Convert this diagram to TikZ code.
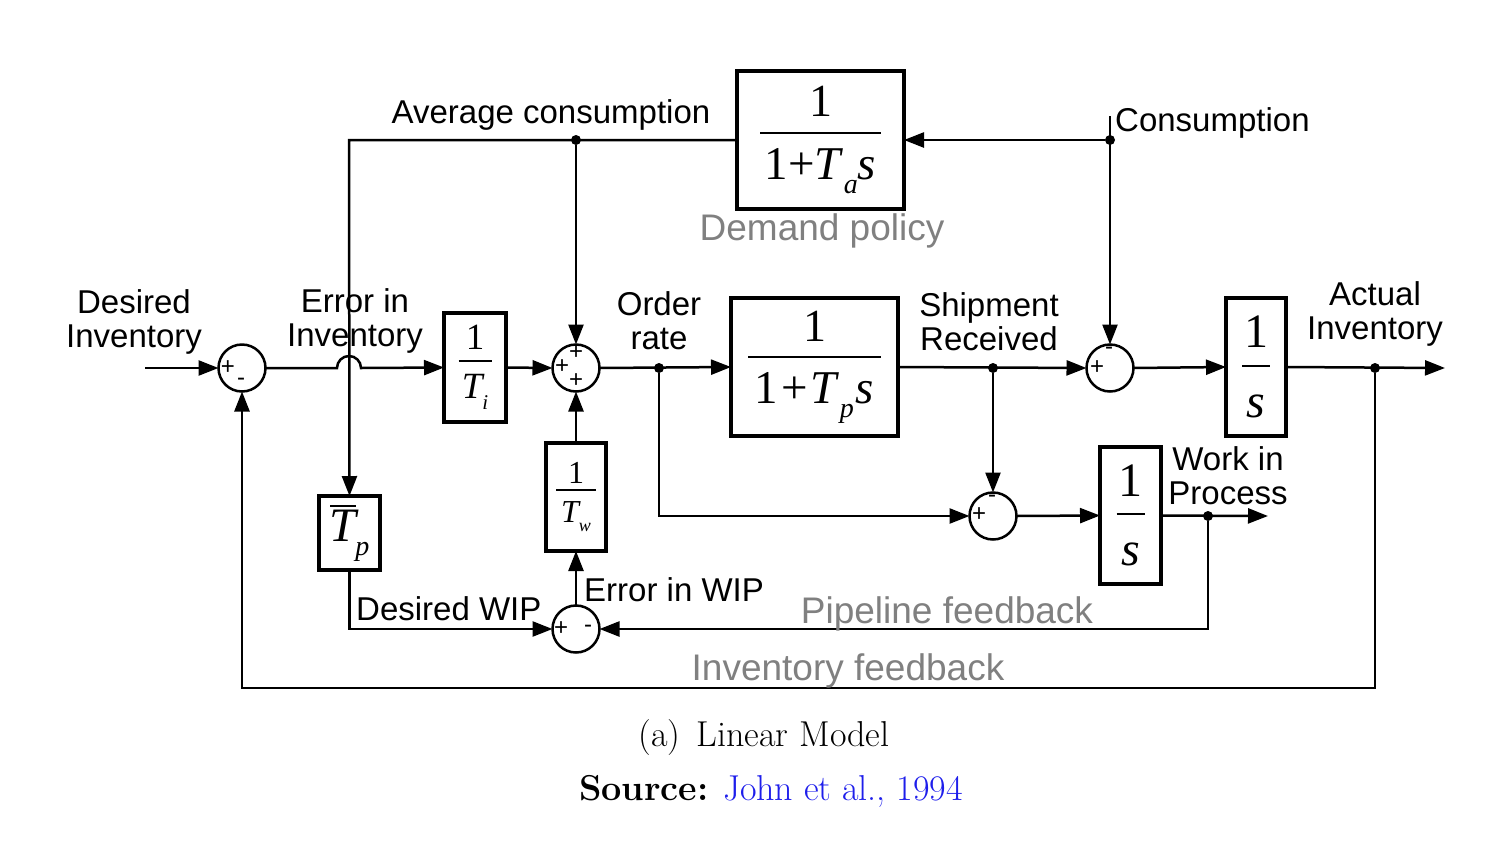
\documentclass[tikz,border=0pt]{standalone}
\usepackage{fontspec}
\newfontfamily\ser{Liberation Serif}
\newfontfamily\lab{Liberation Sans}
\usetikzlibrary{arrows.meta}
\definecolor{fbgray}{RGB}{128,128,128}
\definecolor{citeblue}{RGB}{30,30,235}
% fraction: #1 numerator, #2 denominator, #3 rule width, #4 gap above rule, #5 gap below rule
\newcommand\fr[5]{\vbox{\offinterlineskip\halign{\hfil##\hfil\cr #1\cr\noalign{\kern#4}\vrule width #3 height 1pt depth 1pt\cr\noalign{\kern#5}#2\cr}}}
\newcommand\fsz[1]{\fontsize{#1}{#1}\selectfont}
\begin{document}
\begin{tikzpicture}[x=1pt,y=-1pt,
  blk/.style={draw, line width=4pt, inner sep=0pt, outer sep=0pt},
  sumj/.style={circle, draw, line width=2.5pt, minimum size=47pt, inner sep=0pt, outer sep=0pt},
  conn/.style={line width=2.5pt},
  arr/.style={conn, -{Triangle[length=20pt,width=15pt]}},
  dot/.style={circle, fill, inner sep=0pt, minimum size=10pt},
  txt/.style={font=\lab\fontsize{33}{34}\selectfont, inner sep=0pt, align=center},
  fb/.style={font=\lab\fontsize{37}{40}\selectfont, text=fbgray, inner sep=0pt},
  sgn/.style={font=\lab\fontsize{24}{24}\selectfont, inner sep=0pt}
]
\useasboundingbox (0,0) rectangle (1493,849);

% blocks
\node[blk, minimum width=62pt, minimum height=109pt] (Ti) at (475,367.5)
  {\ser\fsz{37}\fr{1}{\itshape T\raisebox{-0.3em}{\fsz{21}i}}{33pt}{10pt}{13pt}};
\node[blk, minimum width=167pt, minimum height=138pt] (Tp) at (814.5,367)
  {\ser\fr{\fsz{46}1}{\fsz{47}1\kern3pt+\kern3pt\textit{T}\raisebox{-0.3em}{\fsz{28}\textit{p}}\kern2pt\textit{s}}{133pt}{15pt}{14pt}};
\node[blk, minimum width=167pt, minimum height=138pt] (Ta) at (820.5,140)
  {\ser\fr{\fsz{46}1}{\fsz{47}1+\textit{T}\raisebox{-0.3em}{\fsz{28}\textit{a}}\textit{s}}{121pt}{15pt}{14pt}};
\node[blk, minimum width=60pt, minimum height=138pt] (I) at (1256,367)
  {\ser\fsz{48}\fr{1}{\itshape s}{28pt}{17pt}{28pt}};
\node[blk, minimum width=61pt, minimum height=137pt] (W) at (1130.5,515.5)
  {\ser\fsz{48}\fr{1}{\itshape s}{28pt}{17pt}{28pt}};
\node[blk, minimum width=60pt, minimum height=108pt] (Tw) at (576,497)
  {\ser\fsz{32}\fr{1}{\itshape T\raisebox{-0.3em}{\fsz{18}w}}{40pt}{6pt}{10pt}};
\node[blk, minimum width=61pt, minimum height=74pt] (Tpb) at (349.5,533)
  {\ser\fsz{48}\itshape\vbox{\offinterlineskip\halign{\hfil#\hfil\cr\vrule width 26pt height 1pt depth 1pt\cr\noalign{\kern3pt}T\cr}}\kern-1pt\raisebox{-0.3em}{\fsz{28}p}};

% summing junctions
\node[sumj] (s1) at (242,368) {};
\node[sumj] (s2) at (576,368) {};
\node[sumj] (s3) at (1110,368) {};
\node[sumj] (s4) at (576,629) {};
\node[sumj] (s5) at (993,516) {};

% signs
\node[sgn] (p1a) at (228,368) {+};
\node[sgn] (m1b) at (241,382) {-};
\node[sgn] (p2a) at (576,353) {+};
\node[sgn] (p2b) at (562,367) {+};
\node[sgn] (p2c) at (576,381) {+};
\node[sgn] (m3a) at (1109,351) {-};
\node[sgn] (p3b) at (1097,368) {+};
\node[sgn] (p4a) at (561,629) {+};
\node[sgn] (m4b) at (588,629) {-};
\node[sgn] (m5a) at (992,499) {-};
\node[sgn] (p5b) at (979,515) {+};

% coordinates and dots
\coordinate (in) at (145,368);
\coordinate (hopA) at (337,368);
\coordinate (out) at (1445,368);
\coordinate (wout) at (1268,516);
\coordinate (cons) at (1110,116);
\coordinate (avgL) at (349,140);
\coordinate (ifb) at (1375,688);
\node[dot] (or) at (659,368) {};
\node[dot] (sh) at (993,368) {};
\node[dot] (ai) at (1375,368) {};
\node[dot] (cd) at (1110,140) {};
\node[dot] (ac) at (576,140) {};
\node[dot] (wd) at (1208,516) {};

% connectors
\draw[arr] (in) -- (s1.west);
\draw[arr] (s1.east) -- (hopA) arc[start angle=180, end angle=0, radius=12pt] -- (Ti.west);
\draw[arr] (Ti.east) -- (s2.west);
\draw[arr] (s2.east) -- (Tp.west);
\draw[arr] (Tp.east) -- (s3.west);
\draw[arr] (s3.east) -- (I.west);
\draw[arr] (I.east) -- (out);
\draw[arr] (cons) -- (s3.north);
\draw[arr] (cd) -- (Ta.east);
\draw[arr] (Ta.west) -- (avgL) -- (Tpb.north);
\draw[arr] (ac) -- (s2.north);
\draw[arr] (Tpb.south) |- (s4.west);
\draw[arr] (s4.north) -- (Tw.south);
\draw[arr] (Tw.north) -- (s2.south);
\draw[arr] (or) |- (s5.west);
\draw[arr] (sh) -- (s5.north);
\draw[arr] (s5.east) -- (W.west);
\draw[arr] (W.east) -- (wout);
\draw[arr] (wd) |- (s4.east);
\draw[arr] (ai) -- (ifb) -| (s1.south);

% labels
\node[txt] (lDI) at (134,322) {Desired\\Inventory};
\node[txt] (lEI) at (355,321) {Error in\\Inventory};
\node[txt] (lOR) at (659,321) {Order\\rate};
\node[txt] (lSR) at (989,322) {Shipment\\Received};
\node[txt] (lAI) at (1375,314) {Actual\\Inventory};
\node[txt] (lWP) at (1228,476) {Work in\\Process};
\node[txt] (lAC) at (551,115) {Average consumption};
\node[txt, anchor=west] (lC) at (1115,123) {Consumption};
\node[txt, anchor=west] (lEW) at (584,590) {Error in WIP};
\node[txt, anchor=west] (lDW) at (356,609) {Desired WIP};
\node[fb] (lDP) at (822,231) {Demand policy};
\node[fb] (lPF) at (947,614) {Pipeline feedback};
\node[fb] (lIF) at (848,671) {Inventory feedback};

% caption
\node[font=\fontsize{36}{40}\selectfont, inner sep=0pt] (cap) at (764,738) {(a)\hspace{0.45em}Linear Model};
\node[font=\fontsize{36}{40}\selectfont, inner sep=0pt] (src) at (771,791) {\textbf{Source:} \textcolor{citeblue}{John et al., 1994}};
\end{tikzpicture}
\end{document}
